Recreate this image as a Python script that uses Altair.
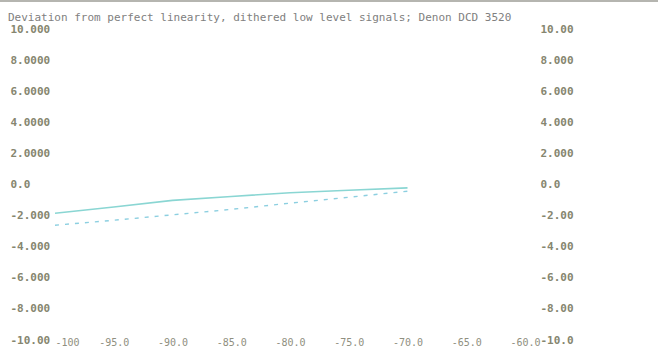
import altair as alt
import pandas as pd

# Input level (dB) and deviation from perfect linearity (dB)
levels = [-100, -95, -90, -85, -80, -75, -70]
left_channel = [-1.85, -1.45, -1.02, -0.77, -0.53, -0.37, -0.22]
right_channel = [-2.62, -2.30, -1.95, -1.60, -1.20, -0.82, -0.43]

x_ticks = [-100, -95, -90, -85, -80, -75, -70, -65, -60]
x_labels = ["-100", "-95.0", "-90.0", "-85.0", "-80.0", "-75.0", "-70.0", "-65.0", "-60.0"]
y_ticks = [10, 8, 6, 4, 2, 0, -2, -4, -6, -8, -10]
y_labels_left = ["10.000", "8.0000", "6.0000", "4.0000", "2.0000", "0.0",
                 "-2.000", "-4.000", "-6.000", "-8.000", "-10.00"]
y_labels_right = ["10.00", "8.000", "6.000", "4.000", "2.000", "0.0",
                  "-2.00", "-4.00", "-6.00", "-8.00", "-10.0"]

title_text = "Deviation from perfect linearity, dithered low level signals; Denon DCD 3520"

df = pd.DataFrame({
    "level": levels * 2,
    "dev": left_channel + right_channel,
    "ch": ["L"] * len(levels) + ["R"] * len(levels),
})

def lookup_expr(ticks, labels):
    parts = ", ".join(f"'{t}': '{l}'" for t, l in zip(ticks, labels))
    return f"({{{parts}}})[toString(datum.value)]"

FONT = "DejaVu Sans Mono"
LABEL_COLOR = "#86866f"

x_enc = alt.X(
    "level:Q",
    scale=alt.Scale(domain=[-100, -60], nice=False, zero=False),
    axis=alt.Axis(
        values=x_ticks, labelExpr=lookup_expr(x_ticks, x_labels), title=None,
        grid=False, domain=False, ticks=False, labelPadding=2,
        labelBaseline="middle", labelFont=FONT, labelFontSize=10,
        labelAlign={"expr": "datum.value == -100 ? 'left' : 'center'"},
        labelColor="#8f8f80", labelFlush=False, labelOverlap=False,
    ),
)
y_scale = alt.Scale(domain=[-10, 10], nice=False, zero=False)

base = alt.Chart(df)

solid = base.transform_filter(alt.datum.ch == "L").mark_line(
    color="#8ad6d3", strokeWidth=1.6
).encode(
    x=x_enc,
    y=alt.Y("dev:Q", scale=y_scale, axis=alt.Axis(
        values=y_ticks, labelExpr=lookup_expr(y_ticks, y_labels_left), title=None,
        grid=False, domain=False, ticks=False, orient="left",
        labelAlign="left", labelPadding=45, labelFont=FONT, labelFontSize=11,
        labelFontWeight="bold", labelColor=LABEL_COLOR, labelFlush=False,
        labelOverlap=False,
    )),
)

dashed = base.transform_filter(alt.datum.ch == "R").mark_line(
    color="#8ccfe0", strokeWidth=1.4, strokeDash=[4, 6]
).encode(
    x=x_enc,
    y=alt.Y("dev:Q", scale=y_scale, axis=alt.Axis(
        values=y_ticks, labelExpr=lookup_expr(y_ticks, y_labels_right), title=None,
        grid=False, domain=False, ticks=False, orient="right",
        labelAlign="left", labelPadding=15, labelFont=FONT, labelFontSize=11,
        labelFontWeight="bold", labelColor=LABEL_COLOR, labelFlush=False,
        labelOverlap=False,
    )),
)

one_row = pd.DataFrame({"t": [title_text]})

# heading text along the top-left
heading = alt.Chart(one_row).mark_text(
    align="left", baseline="middle", font=FONT, fontSize=11, color="#808080"
).encode(x=alt.value(-47), y=alt.value(-11), text="t:N")

# thin frame edge along the top of the window
top_edge = alt.Chart(one_row).mark_rule(
    color="#b5b5b0", strokeWidth=2
).encode(x=alt.value(-55), x2=alt.value(603), y=alt.value(-28))

chart = alt.layer(solid, dashed, heading, top_edge).resolve_scale(y="independent").properties(
    width=470,
    height=311,
    padding={"left": 55, "top": 29, "right": 133, "bottom": 7},
    autosize=alt.AutoSizeParams(type="none"),
    background="white",
).configure_view(stroke=None)

chart.save("out.html", embed_options={"renderer": "svg", "actions": False})
